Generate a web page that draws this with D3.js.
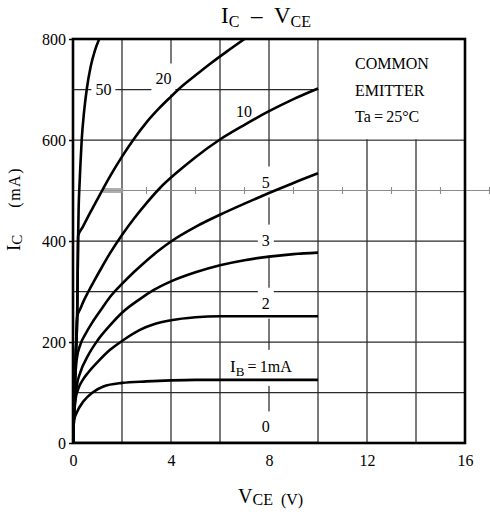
<!DOCTYPE html>
<html lang="en">
<head>
<meta charset="UTF-8" />
<title>IC - VCE</title>
<style>
  body { margin: 0; background: #fff; }
  svg { display: block; font-family: "Liberation Serif", "DejaVu Serif", serif; }
  .grid line { stroke: #2a2a2a; stroke-width: 1.25px; }
  .curve { fill: none; stroke: #000; stroke-width: 2.6px; stroke-linejoin: round; }
  .frame { fill: none; stroke: #000; stroke-width: 2.6px; }
  .lbl { font-size: 16px; fill: #000; }
  .streak { stroke: #8c8c8c; stroke-width: 1.1px; }
</style>
</head>
<body>
<svg id="chart"></svg>
<script src="https://cdn.jsdelivr.net/npm/d3@7"></script>
<script>
// ---------------------------------------------
// Data: IC (mA) vs VCE (V), one array per base current IB
// ---------------------------------------------
const ib0  = [[0,0],[10,0]];
const ib1  = [[0,0],[0.04,45],[0.15,60],[0.42,82],[0.8,100],[1.24,112],[2,119],[3,122],[4,124],[5,125],[10,125]];
const ib2  = [[0,0],[0.04,50],[0.1,85],[0.2,105],[0.4,125],[0.63,140],[1,160],[1.5,184],[2,202],[2.73,224],[3.3,235],[4,243],[5,249],[6,251],[10,251]];
const ib3  = [[0,0],[0.05,60],[0.15,112],[0.3,140],[0.6,172],[1,203],[1.51,233],[2,258],[2.73,285],[3.3,303],[4,320],[5,338],[6,352],[7,362],[8,369],[9,374],[10,377]];
const ib5  = [[0,0],[0.04,70],[0.08,120],[0.15,165],[0.3,195],[0.5,215],[0.83,242],[1.2,268],[1.51,289],[2,315],[2.5,339],[3,361],[3.5,381],[4,399],[5,428],[6,452],[7,474],[8,495],[9,515],[10,534]];
const ib10 = [[0,0],[0.05,80],[0.11,170],[0.17,250],[0.3,266],[0.45,283],[0.63,300],[0.83,318],[1.2,350],[1.5,375],[2,412],[2.5,445],[3,475],[3.55,505],[4.37,541],[5,566],[6,601],[7,630],[8,657],[9,681],[10,702]];
const ib20 = [[0,0],[0.05,80],[0.11,170],[0.17,250],[0.19,330],[0.21,410],[0.4,428],[0.7,456],[1.1,492],[1.51,528],[2,567],[2.5,603],[3,635],[3.5,662],[4,686],[4.3,700],[5,728],[5.6,751],[6.3,776],[7,800]];
const ib50 = [[0,0],[0.05,80],[0.11,170],[0.17,250],[0.19,330],[0.21,410],[0.23,465],[0.26,505],[0.3,548],[0.355,600],[0.45,655],[0.56,700],[0.72,745],[0.9,778],[1.07,800]];
const series = [ib0, ib1, ib2, ib3, ib5, ib10, ib20, ib50];

// curve labels: [text, VCE, IC]
const curveLabels = [["50",1.24,700],["20",3.69,721],["10",6.98,657],["5",7.87,517],["3",7.87,402],["2",7.87,277],["0",7.87,32]];
const ibLabel = ["1mA", 7.67, 152];

const xTicks = [0,4,8,12,16];
const yTicks = [0,200,400,600,800];
const xGrid = [2,4,6,8,10,12,14];
const yGrid = [100,200,300,400,500,600,700];
const streakTicks = [3,5,7,9,11,13,15,17];
const legendLines = ["COMMON","EMITTER","Ta\u2009=\u200925°C"];

// ---------------------------------------------
// Setup
// ---------------------------------------------
const width = 490, height = 519;
const svg = d3.select("#chart").attr("width", width).attr("height", height);
svg.append("rect").attr("width", width).attr("height", height).attr("fill", "#fff");

const x = d3.scaleLinear().domain([0, 16]).range([73, 465]);
const y = d3.scaleLinear().domain([0, 800]).range([443, 39]);

svg.append("clipPath").attr("id", "plotClip")
  .append("rect")
  .attr("x", x(0)).attr("y", y(800))
  .attr("width", x(16) - x(0)).attr("height", y(0) - y(800));

// grid
const grid = svg.append("g").attr("class", "grid");
grid.selectAll(".gx").data(xGrid).enter().append("line")
  .attr("x1", d => x(d)).attr("x2", d => x(d))
  .attr("y1", y(800)).attr("y2", y(0));
grid.selectAll(".gy").data(yGrid.filter(d => d !== 500)).enter().append("line")
  .attr("x1", x(0)).attr("x2", x(16))
  .attr("y1", d => y(d)).attr("y2", d => y(d));

// legend area blanks the grid in the top right cell block
svg.append("rect")
  .attr("x", x(10) + 0.8).attr("y", y(800))
  .attr("width", x(16) - x(10) - 0.8).attr("height", y(600) - y(800) - 0.8)
  .attr("fill", "#fff");

const legend = svg.append("text").attr("class", "lbl").attr("x", 355);
legend.selectAll("tspan").data(legendLines).enter().append("tspan")
  .attr("x", 355).attr("y", (d, i) => 69 + i * 26.5)
  .style("font-size", "16px")
  .text(d => d);

// curve labels with white boxes behind them
const labelLayer = svg.append("g");
const boxLayer = labelLayer.append("g");
const textLayer = labelLayer.append("g");

curveLabels.forEach(([t, v, i]) => {
  textLayer.append("text").attr("class", "lbl")
    .attr("x", x(v)).attr("y", y(i)).attr("dy", "0.35em")
    .attr("text-anchor", "middle").text(t);
});
const ibText = textLayer.append("text").attr("class", "lbl")
  .attr("x", x(ibLabel[1])).attr("y", y(ibLabel[2])).attr("dy", "0.35em")
  .attr("text-anchor", "middle");
ibText.append("tspan").style("font-size", "17px").text("I");
ibText.append("tspan").attr("dy", 4).style("font-size", "13px").text("B");
ibText.append("tspan").attr("dy", -4).text("\u2009=\u2009" + ibLabel[0]);

textLayer.selectAll("text").each(function() {
  const b = this.getBBox();
  boxLayer.append("rect")
    .attr("x", b.x - 4).attr("y", b.y - 7)
    .attr("width", b.width + 8).attr("height", b.height + 14)
    .attr("fill", "#fff");
});

// scan streak along the 500 mA line (runs past the frame)
svg.append("line").attr("class", "streak")
  .attr("x1", x(0)).attr("x2", width)
  .attr("y1", y(500)).attr("y2", y(500));
svg.selectAll(".stk").data(streakTicks).enter().append("line")
  .attr("class", "streak")
  .attr("x1", d => x(d)).attr("x2", d => x(d))
  .attr("y1", y(500) - 3.5).attr("y2", y(500) + 3.5);
svg.append("rect")
  .attr("x", x(1.23)).attr("y", y(500) - 2.5)
  .attr("width", 20).attr("height", 5)
  .attr("fill", "#9a9a9a").attr("opacity", 0.8);

// curves
const line = d3.line()
  .x(d => x(d[0])).y(d => y(d[1]))
  .curve(d3.curveMonotoneX);
svg.append("g").attr("clip-path", "url(#plotClip)")
  .selectAll("path").data(series).enter().append("path")
  .attr("class", "curve")
  .attr("d", line);

// frame
svg.append("rect").attr("class", "frame")
  .attr("x", x(0)).attr("y", y(800))
  .attr("width", x(16) - x(0)).attr("height", y(0) - y(800));

// axes
const yAxis = svg.append("g")
  .attr("transform", `translate(${x(0) - 1},0)`)
  .call(d3.axisLeft(y).tickValues(yTicks).tickSize(3).tickPadding(3).tickFormat(d3.format("d")));
const xAxis = svg.append("g")
  .attr("transform", `translate(0,${y(0)})`)
  .call(d3.axisBottom(x).tickValues(xTicks).tickSize(0).tickPadding(12).tickFormat(d3.format("d")));
[xAxis, yAxis].forEach(a => {
  a.select(".domain").remove();
  a.attr("font-family", null).attr("font-size", null);
  a.selectAll("text").attr("class", "lbl").style("font-size", "16px").attr("fill", "#000");
  a.selectAll("line").attr("stroke", "#000").attr("stroke-width", 1.5);
});

// title
const title = svg.append("text").attr("x", 266).attr("y", 23)
  .attr("text-anchor", "middle").style("font-size", "23px").attr("fill", "#000");
title.append("tspan").text("I");
title.append("tspan").attr("dy", 4).style("font-size", "16px").text("C");
title.append("tspan").attr("dy", -4).text("\u2002–\u2002V");
title.append("tspan").attr("dy", 4).style("font-size", "16px").text("CE");

// y label
const yl = svg.append("text")
  .attr("transform", "translate(20,251) rotate(-90)")
  .style("font-size", "19px").attr("fill", "#000");
yl.append("tspan").text("I");
yl.append("tspan").attr("dy", 2).style("font-size", "15px").text("C");
yl.append("tspan").attr("dy", -2).style("font-size", "16px").attr("letter-spacing", 1.5).text("\u2003\u2002(mA)");

// x label
const xl = svg.append("text").attr("x", 238).attr("y", 503)
  .style("font-size", "20px").attr("fill", "#000");
xl.append("tspan").text("V");
xl.append("tspan").attr("dy", 2).style("font-size", "16px").text("CE\u2002(V)");
</script>
</body>
</html>
